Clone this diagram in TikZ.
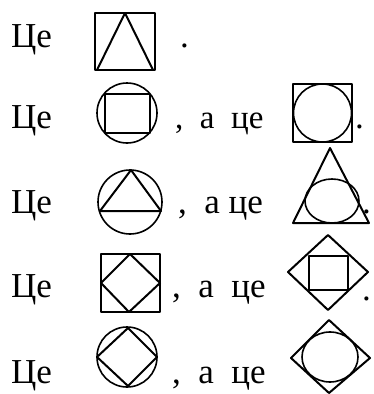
\documentclass[tikz,border=0pt]{standalone}
\usepackage{fontspec}
\setmainfont{Liberation Serif}
\begin{document}
\begin{tikzpicture}[x=1pt,y=-1pt,
  txt/.style={anchor=base west,inner sep=0pt,font=\fontsize{35}{38}\selectfont},
  txts/.style={anchor=base west,inner sep=0pt,font=\fontsize{33}{36}\selectfont},
  fig/.style={line width=2pt,line join=round},
  circ/.style={line width=1.6pt}]
\useasboundingbox (0,0) rectangle (373,394);
% row 1
\node[txt] (t1) at (11,47) {Це};
\draw[fig] (95,13) rectangle (155,70);
\draw[fig] (97,70) -- (125,13) -- (153,70);
\node[txt] (p1) at (180,47) {.};
% row 2
\node[txt] (t2) at (11,128) {Це};
\draw[circ] (127,113) circle[radius=30];
\draw[fig] (105,94) rectangle (150,133);
\node[txts] (a2) at (175,128) {,\ \ а\ \ це};
\draw[fig] (293,84) rectangle (352,142);
\draw[circ] (322.5,113) circle[radius=29];
\node[txt] (p2) at (355,128) {.};
% row 3
\node[txt] (t3) at (11,213) {Це};
\draw[circ] (130,202) circle[radius=32];
\draw[fig] (100,211) -- (131,170) -- (161,211) -- cycle;
\node[txt] (a3) at (178,213) {,\ \ а\ це};
\draw[fig] (293,223) -- (330,148) -- (369,223) -- cycle;
\draw[circ] (332,201) ellipse[x radius=27,y radius=22];
\node[txt] (p3) at (362,213) {.};
% row 4
\node[txt] (t4) at (11,297) {Це};
\draw[fig] (101,254) rectangle (160,312);
\draw[fig] (130,254) -- (160,283) -- (129,312) -- (101,283) -- cycle;
\node[txt] (a4) at (172,297) {,\ \ а\ \ це};
\draw[fig] (328,235) -- (368,272) -- (328,310) -- (288,272) -- cycle;
\draw[fig] (309,256) rectangle (348,290);
\node[txt] (p4) at (362,300) {.};
% row 5
\node[txt] (t5) at (11,383) {Це};
\draw[circ] (127,357) circle[radius=30];
\draw[fig] (128,328) -- (157,357) -- (128,386) -- (97,357) -- cycle;
\node[txt] (a5) at (172,383) {,\ \ а\ \ це};
\draw[fig] (329,320) -- (370,358) -- (329,393) -- (291,358) -- cycle;
\draw[circ] (330,357) ellipse[x radius=28,y radius=25];
\end{tikzpicture}
\end{document}
